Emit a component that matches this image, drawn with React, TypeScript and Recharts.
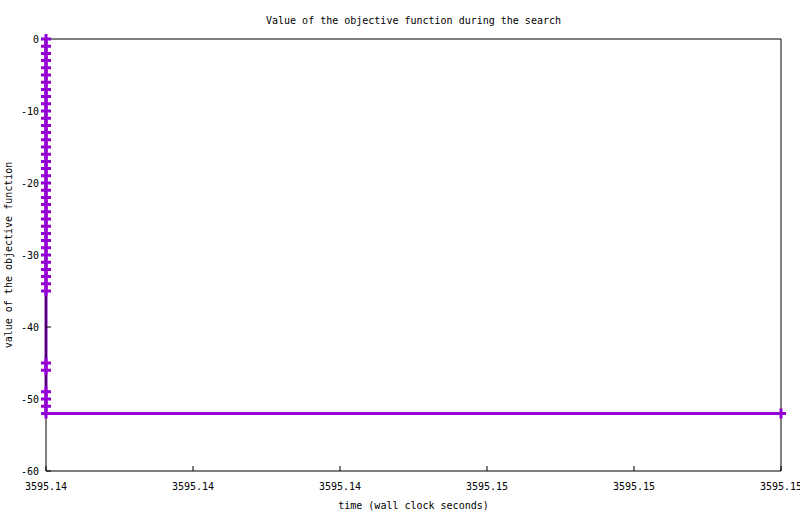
import React from 'react';
import { LineChart, Line, XAxis, YAxis } from 'recharts';

// Time (wall clock seconds) of each recorded objective value
const times: number[] = [
  3595.14, 3595.14, 3595.14, 3595.14, 3595.14, 3595.14, 3595.14, 3595.14, 3595.14, 3595.14,
  3595.14, 3595.14, 3595.14, 3595.14, 3595.14, 3595.14, 3595.14, 3595.14, 3595.14, 3595.14,
  3595.14, 3595.14, 3595.14, 3595.14, 3595.14, 3595.14, 3595.14, 3595.14, 3595.14, 3595.14,
  3595.14, 3595.14, 3595.14, 3595.14, 3595.14, 3595.14,
  3595.14, 3595.14, 3595.14, 3595.14, 3595.14, 3595.14,
  3595.15,
];

// Objective function value at each time
const values: number[] = [
  0, -1, -2, -3, -4, -5, -6, -7, -8, -9,
  -10, -11, -12, -13, -14, -15, -16, -17, -18, -19,
  -20, -21, -22, -23, -24, -25, -26, -27, -28, -29,
  -30, -31, -32, -33, -34, -35,
  -45, -46, -49, -50, -51, -52,
  -52,
];

const xTicks: number[] = [3595.14, 3595.142, 3595.144, 3595.146, 3595.148, 3595.15];
const xTickLabels: string[] = ['3595.14', '3595.14', '3595.14', '3595.15', '3595.15', '3595.15'];
const yTicks: number[] = [-60, -50, -40, -30, -20, -10, 0];

const data = times.map((t, i) => ({ t, v: values[i] }));

const FONT = '"DejaVu Sans Mono", "Liberation Mono", monospace';
const COLOR = '#9400D3';

const PlusDot = (props: any) => {
  const { cx, cy, index } = props;
  if (cx == null || cy == null) return <g key={`d${index}`} />;
  return (
    <path
      key={`d${index}`}
      d={`M${cx - 5},${cy} h10 M${cx},${cy - 5} v10`}
      stroke={COLOR}
      strokeWidth={3}
      fill="none"
    />
  );
};

export default function App() {
  const tickStyle = { fill: '#000', fontSize: 10, fontFamily: FONT };
  return (
    <div style={{ position: 'absolute', left: 0, top: 0, width: 800, height: 514, background: '#fff' }}>
      <LineChart
        width={800}
        height={514}
        data={data}
        margin={{ top: 29, right: 9, bottom: 13, left: 6 }}
        style={{ fontFamily: FONT }}
      >
        <Line
          type="linear"
          dataKey="v"
          stroke={COLOR}
          strokeWidth={3}
          dot={PlusDot}
          activeDot={false}
          isAnimationActive={false}
        />
        <XAxis
          xAxisId={0}
          type="number"
          dataKey="t"
          domain={[3595.14, 3595.15]}
          ticks={xTicks}
          interval={0}
          height={30}
          tickSize={-5}
          tickMargin={17}
          tick={tickStyle}
          tickFormatter={(_v: number, i: number) => xTickLabels[i]}
          axisLine={{ stroke: '#000', strokeWidth: 1 }}
          tickLine={{ stroke: '#000' }}
        />
        <XAxis
          xAxisId="top"
          orientation="top"
          type="number"
          dataKey="t"
          domain={[3595.14, 3595.15]}
          ticks={xTicks}
          interval={0}
          height={10}
          tickSize={-5}
          tick={false}
          axisLine={{ stroke: '#000', strokeWidth: 1 }}
          tickLine={{ stroke: '#000' }}
        />
        <YAxis
          yAxisId={0}
          type="number"
          domain={[-60, 0]}
          ticks={yTicks}
          interval={0}
          width={40}
          tickSize={-5}
          tickMargin={12}
          tick={tickStyle}
          axisLine={{ stroke: '#000', strokeWidth: 1 }}
          tickLine={{ stroke: '#000' }}
        />
        <YAxis
          yAxisId="right"
          orientation="right"
          type="number"
          domain={[-60, 0]}
          ticks={yTicks}
          interval={0}
          width={10}
          tickSize={-5}
          tick={false}
          axisLine={{ stroke: '#000', strokeWidth: 1 }}
          tickLine={{ stroke: '#000' }}
        />
        <text x={413.5} y={24} textAnchor="middle" fontSize={10} fontFamily={FONT} fill="#000">
          Value of the objective function during the search
        </text>
        <text x={413.5} y={508.5} textAnchor="middle" fontSize={10} fontFamily={FONT} fill="#000">
          time (wall clock seconds)
        </text>
        <text
          x={12}
          y={255}
          transform="rotate(-90 12 255)"
          textAnchor="middle"
          fontSize={10}
          fontFamily={FONT}
          fill="#000"
        >
          value of the objective function
        </text>
      </LineChart>
    </div>
  );
}
